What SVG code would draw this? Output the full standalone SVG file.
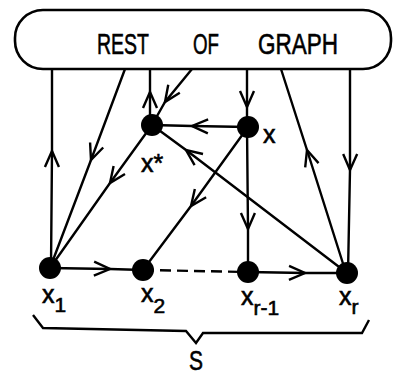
<svg xmlns="http://www.w3.org/2000/svg" width="394" height="375" viewBox="0 0 394 375">
<style>
.e{fill:none;stroke:#000;stroke-width:2.4;marker-mid:url(#ah)}
.p{fill:none;stroke:#000;stroke-width:2.4}
.n{fill:#000}
.t{font-family:"Liberation Sans",Arial,sans-serif;fill:#000;stroke:#000;stroke-width:0.6}
</style>
<defs>
<marker id="ah" markerUnits="userSpaceOnUse" markerWidth="30" markerHeight="30" refX="0" refY="0" viewBox="-15 -15 30 30" orient="auto" overflow="visible">
<path d="M -16 -7 L 0 0 L -16 7" fill="none" stroke="#000" stroke-width="2.4"/>
</marker>
</defs>
<g id="rest">
<rect x="15" y="10" width="376" height="59" rx="28" ry="28" fill="#fff" stroke="#000" stroke-width="2.6"/>
<text class="t" x="97" y="54" font-size="30" textLength="52" lengthAdjust="spacingAndGlyphs">REST</text>
<text class="t" x="193" y="54" font-size="30" textLength="26" lengthAdjust="spacingAndGlyphs">OF</text>
<text class="t" x="258" y="54" font-size="30" textLength="80" lengthAdjust="spacingAndGlyphs">GRAPH</text>
</g>
<g id="connectors">
<path class="e" d="M 51 268 L 52 151 L 52 69"/>
<path class="e" d="M 125 69 L 91 160 L 50 268"/>
<path class="e" d="M 152 125 L 110 183 L 50 268"/>
<path class="e" d="M 192 69 L 165 102 L 152 125"/>
<path class="e" d="M 150 125 L 150 92 L 150 69"/>
<path class="e" d="M 247 69 L 247 107 L 247 127"/>
<path class="e" d="M 248 127 L 192 126 L 152 125"/>
<path class="e" d="M 248 127 L 191 206 L 143 270"/>
<path class="e" d="M 347 273 L 186 150 L 152 125"/>
<path class="e" d="M 247 127 L 248 229 L 248 272"/>
<path class="e" d="M 346 273 L 307 150 L 281 69"/>
<path class="e" d="M 350 69 L 350 170 L 348 273"/>
<path class="e" d="M 50 268 L 110 269 L 143 270"/>
<path class="e" d="M 248 272 L 305 273 L 347 273"/>
<path class="p" d="M 143 270 L 248 272" stroke-dasharray="11 6"/>
</g>
<g id="xstar"><circle class="n" cx="152" cy="125" r="11"/><text class="t" x="141" y="172" font-size="25">x*</text></g>
<g id="x"><circle class="n" cx="248" cy="127" r="11"/><text class="t" x="263" y="143" font-size="25">x</text></g>
<g id="x1"><circle class="n" cx="50" cy="268" r="11"/><text class="t" x="42" y="303" font-size="25">x<tspan font-size="21" dy="9">1</tspan></text></g>
<g id="x2"><circle class="n" cx="143" cy="270" r="11"/><text class="t" x="141" y="302" font-size="25">x<tspan font-size="21" dy="11">2</tspan></text></g>
<g id="xr1"><circle class="n" cx="248" cy="272" r="11"/><text class="t" x="241" y="305" font-size="25">x<tspan font-size="21" dy="10">r-1</tspan></text></g>
<g id="xr"><circle class="n" cx="347" cy="273" r="11"/><text class="t" x="339" y="305" font-size="25">x<tspan font-size="21" dy="9">r</tspan></text></g>
<g id="S">
<path class="p" d="M 33 315 L 43 328 L 186 331 L 196 343 L 203 333 L 362 333 L 369 320"/>
<text class="t" x="189" y="370" font-size="28" textLength="14" lengthAdjust="spacingAndGlyphs">S</text>
</g>
</svg>
